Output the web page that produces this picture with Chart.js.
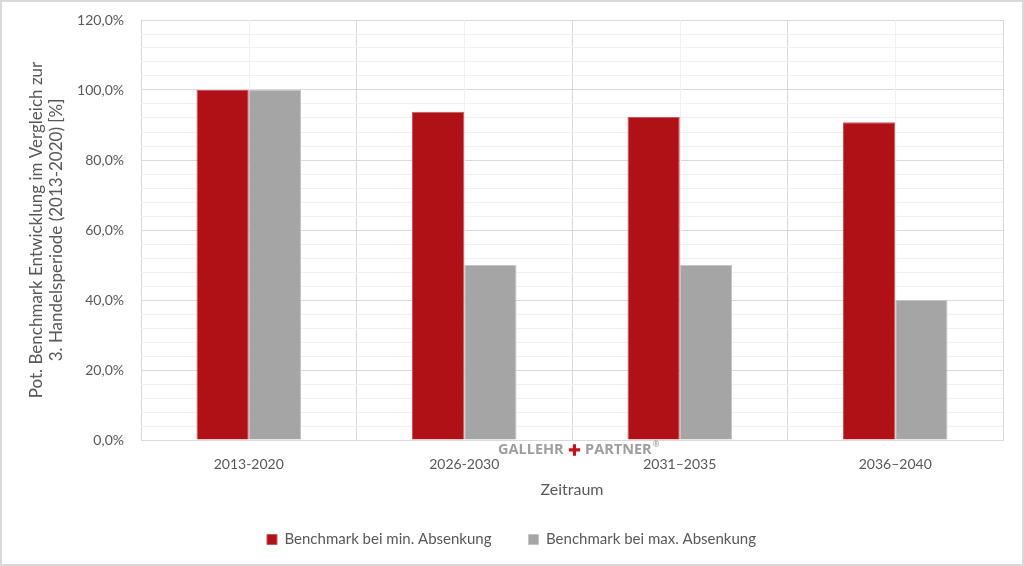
<!DOCTYPE html>
<html>
<head>
<meta charset="utf-8">
<script src="https://cdn.jsdelivr.net/npm/chart.js@4"></script>
<style>
html,body{margin:0;padding:0;background:#fff;}
#wrap{width:1024px;height:566px;position:relative;}
</style>
</head>
<body>
<div id="wrap"><canvas id="c" width="1024" height="566"></canvas></div>
<script>
const categories = ['2013-2020', '2026-2030', '2031–2035', '2036–2040'];
const seriesMin = [100, 93.8, 92.3, 90.8];
const seriesMax = [100, 50, 50, 40];
const seriesNames = ['Benchmark bei min. Absenkung', 'Benchmark bei max. Absenkung'];
const yTitle = ['Pot. Benchmark Entwicklung im Vergleich zur', '3. Handelsperiode (2013-2020) [%]'];
const xTitle = 'Zeitraum';
const watermark = ['GALLEHR', '+', 'PARTNER', '®'];

const FONT = 'Lato, "Open Sans", sans-serif';
const TXT = '#595959';

const extras = {
  id: 'extras',
  beforeDatasetsDraw(chart) {
    const ctx = chart.ctx, x = chart.scales.x, a = chart.chartArea;
    ctx.save();
    ctx.strokeStyle = '#f0f0f0';
    ctx.lineWidth = 1;
    for (let i = 0; i < categories.length; i++) {
      const px = Math.round(x.getPixelForTick(i)) + 0.5;
      ctx.beginPath(); ctx.moveTo(px, a.top); ctx.lineTo(px, a.bottom); ctx.stroke();
    }
    ctx.restore();
  },
  afterDraw(chart) {
    const ctx = chart.ctx;
    ctx.save();
    ctx.strokeStyle = '#d9d9d9';
    ctx.lineWidth = 2;
    ctx.strokeRect(1, 1, chart.width - 2, chart.height - 2);
    ctx.textBaseline = 'alphabetic';
    const gray = '#9e9e9e';
    let px = 498; const base = 454;
    ctx.font = 'bold 14.5px "Open Sans", sans-serif';
    ctx.fillStyle = gray;
    ctx.fillText(watermark[0], px, base);
    px += ctx.measureText(watermark[0]).width + 4;
    ctx.font = '900 16px "DejaVu Sans", sans-serif';
    ctx.fillStyle = '#c0141b';
    ctx.strokeStyle = '#c0141b';
    ctx.lineWidth = 1.3;
    ctx.fillText(watermark[1], px, base + 1);
    ctx.strokeText(watermark[1], px, base + 1);
    px += ctx.measureText(watermark[1]).width + 4;
    ctx.font = 'bold 14.5px "Open Sans", sans-serif';
    ctx.fillStyle = gray;
    ctx.fillText(watermark[2], px, base);
    px += ctx.measureText(watermark[2]).width;
    ctx.font = 'bold 8px "Open Sans", sans-serif';
    ctx.fillText(watermark[3], px + 1, base - 7);
    ctx.restore();
  }
};

new Chart(document.getElementById('c'), {
  type: 'bar',
  data: {
    labels: categories,
    datasets: [
      { label: seriesNames[0], data: seriesMin, backgroundColor: '#b01117', borderColor: '#c9565a', borderWidth: 1,
        categoryPercentage: 0.485, barPercentage: 1 },
      { label: seriesNames[1], data: seriesMax, backgroundColor: '#a5a5a5', borderColor: '#c4c4c4', borderWidth: 1,
        categoryPercentage: 0.485, barPercentage: 1 }
    ]
  },
  options: {
    responsive: false,
    animation: false,
    layout: { padding: { left: 20, right: 21, top: 20, bottom: 9 } },
    plugins: {
      legend: {
        position: 'bottom',
        labels: {
          color: TXT, font: { family: FONT, size: 15 },
          boxWidth: 10, boxHeight: 10, padding: 37
        }
      },
      tooltip: { enabled: false }
    },
    scales: {
      x: {
        offset: true,
        grid: { offset: true, color: '#d9d9d9', lineWidth: 1, drawTicks: false },
        border: { color: '#d9d9d9' },
        ticks: { color: TXT, font: { family: FONT, size: 14 }, padding: 16 },
        title: { display: true, text: xTitle, color: TXT, font: { family: FONT, size: 16 }, padding: { top: 0, bottom: -4 } },
        afterFit(s) { s.height = 55; }
      },
      y: {
        min: 0, max: 120,
        ticks: {
          stepSize: 4, autoSkip: false, color: TXT, font: { family: FONT, size: 14 }, padding: 17,
          callback: v => (v % 20 === 0 ? v.toFixed(1).replace('.', ',') + '%' : '')
        },
        grid: {
          drawTicks: false,
          color: c => (c.tick && c.tick.value % 20 === 0 ? '#d9d9d9' : '#f0f0f0')
        },
        border: { display: false },
        title: { display: true, text: yTitle, color: TXT, font: { family: FONT, size: 17 }, padding: { top: 6, bottom: 4 } },
        afterFit(s) { s.width = 121; s.paddingTop = 0; s.paddingBottom = 0; }
      }
    }
  },
  plugins: [extras]
});
</script>
</body>
</html>
